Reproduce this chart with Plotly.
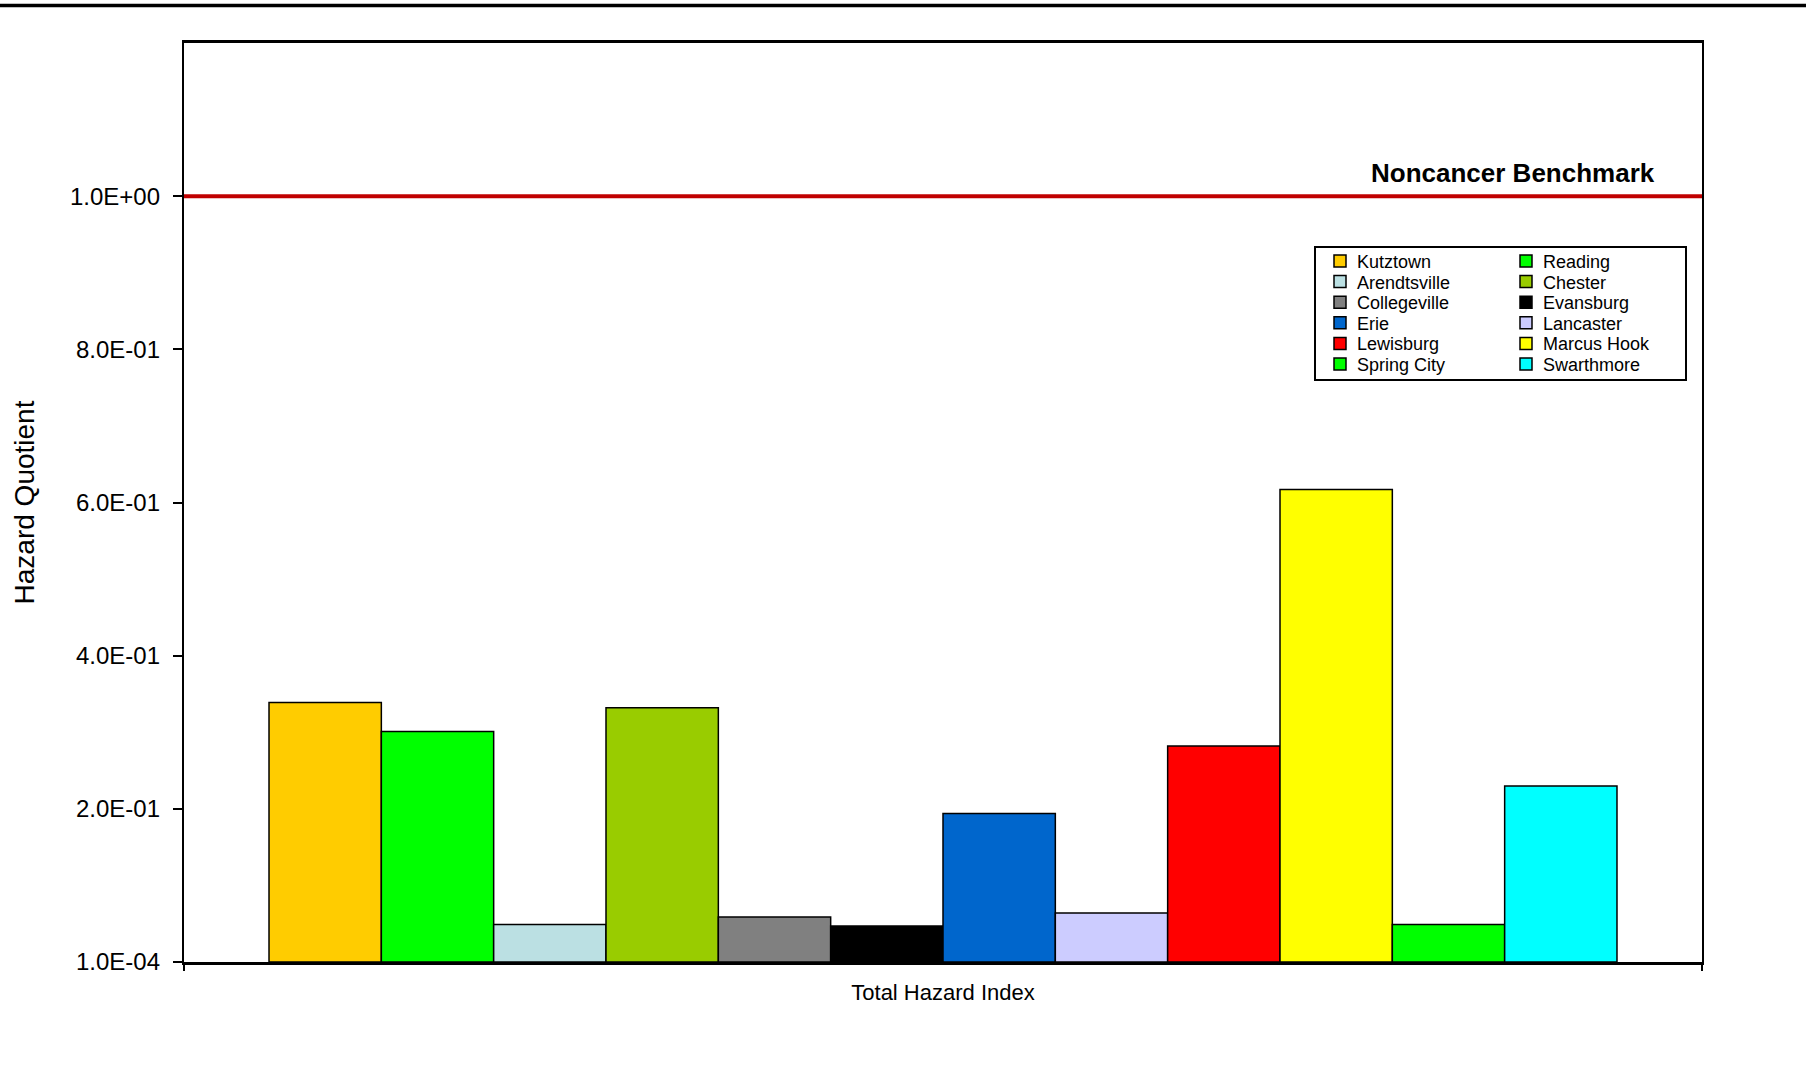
import plotly.graph_objects as go

# Sites and total hazard index values
sites = ["Kutztown", "Reading", "Arendtsville", "Chester", "Collegeville", "Evansburg",
         "Erie", "Lancaster", "Lewisburg", "Marcus Hook", "Spring City", "Swarthmore"]
hazard_index = [0.339, 0.301, 0.049, 0.332, 0.059, 0.047,
                0.194, 0.064, 0.282, 0.617, 0.049, 0.230]
site_colors = ["#FFCC00", "#00FF00", "#BBE0E3", "#99CC00", "#808080", "#000000",
               "#0066CC", "#CCCCFF", "#FF0000", "#FFFF00", "#00FF00", "#00FFFF"]

category = ["Total Hazard Index"]
benchmark = 1.0
y_ticks = [0.0001, 0.2, 0.4, 0.6, 0.8, 1.0]
y_tick_text = ["1.0E-04", "2.0E-01", "4.0E-01", "6.0E-01", "8.0E-01", "1.0E+00"]

W, H = 1806, 1071
ML, MR, MT, MB = 184, 104, 43, 109
PW, PH = W - ML - MR, H - MT - MB
FONT = "Liberation Sans, Arial, sans-serif"


def px_x(x):
    return (x - ML) / PW


def px_y(y):
    return (H - MB - y) / PH


fig = go.Figure()
for name, val, col in zip(sites, hazard_index, site_colors):
    fig.add_trace(go.Bar(
        x=category, y=[val], name=name,
        marker=dict(color=col, line=dict(color="black", width=1.5)),
        showlegend=False,
    ))

shapes = []
annotations = []

# benchmark line
shapes.append(dict(type="line", xref="paper", yref="y", x0=0, x1=1,
                   y0=benchmark, y1=benchmark,
                   line=dict(color="#C00000", width=4)))
annotations.append(dict(text="<b>Noncancer Benchmark</b>", xref="paper", yref="paper",
                        x=px_x(1657), y=px_y(173), xanchor="right", yanchor="middle",
                        showarrow=False, font=dict(family=FONT, size=26, color="black")))

# rule across the top of the page
shapes.append(dict(type="line", xref="paper", yref="paper",
                   x0=px_x(0), x1=px_x(W), y0=px_y(5.5), y1=px_y(5.5),
                   line=dict(color="black", width=3.5)))

# two-column legend
box_x0, box_x1, box_y0, box_y1 = 1315, 1686, 247, 380
shapes.append(dict(type="rect", xref="paper", yref="paper",
                   x0=px_x(box_x0), x1=px_x(box_x1), y0=px_y(box_y0), y1=px_y(box_y1),
                   line=dict(color="black", width=2), fillcolor="white", layer="above"))
col_swatch = [1334, 1520]
col_text = [1355, 1541]
row0, row_step, sw = 261, 20.6, 12
for i, (name, col) in enumerate(zip(sites, site_colors)):
    c, r = i % 2, i // 2
    cy = row0 + r * row_step
    shapes.append(dict(type="rect", xref="paper", yref="paper",
                       x0=px_x(col_swatch[c]), x1=px_x(col_swatch[c] + sw),
                       y0=px_y(cy - sw / 2), y1=px_y(cy + sw / 2),
                       line=dict(color="black", width=1.5), fillcolor=col, layer="above"))
    annotations.append(dict(text=name, xref="paper", yref="paper",
                            x=px_x(col_text[c]), y=px_y(cy + 1),
                            xanchor="left", yanchor="middle", showarrow=False,
                            font=dict(family=FONT, size=18, color="black")))

fig.update_layout(
    width=W, height=H,
    margin=dict(l=ML, r=MR, t=MT, b=MB, pad=0),
    paper_bgcolor="white", plot_bgcolor="white",
    barmode="group", bargap=0.112, bargroupgap=0,
    shapes=shapes, annotations=annotations,
    font=dict(family=FONT, color="black"),
    xaxis=dict(
        type="category", tickson="boundaries", ticks="outside", ticklen=6,
        tickwidth=2, tickcolor="black", ticklabelstandoff=9,
        showline=True, linecolor="black", linewidth=2.5, mirror=True,
        showgrid=False, zeroline=False,
        tickfont=dict(family=FONT, size=22, color="black"),
    ),
    yaxis=dict(
        range=[0.0001, 1.2], tickvals=y_ticks, ticktext=y_tick_text,
        ticks="outside", ticklen=9, tickwidth=2, tickcolor="black",
        ticklabelstandoff=8,
        showline=True, linecolor="black", linewidth=2.3, mirror=True,
        showgrid=False, zeroline=False,
        tickfont=dict(family=FONT, size=24, color="black"),
        title=dict(text="Hazard Quotient", standoff=27,
                   font=dict(family=FONT, size=28, color="black")),
    ),
)

fig.write_html("out.html")
